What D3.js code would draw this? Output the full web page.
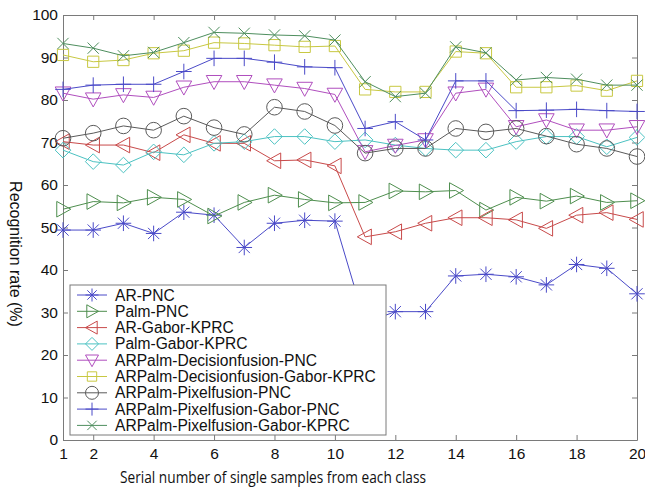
<!DOCTYPE html>
<html>
<head>
<meta charset="utf-8">
<script src="https://cdn.jsdelivr.net/npm/d3@7"></script>
<style>
  body { margin: 0; background: #fff; }
  text { font-family: "Liberation Sans", Arial, sans-serif; }
</style>
</head>
<body>
<div id="chart"></div>
<script>
// x positions (serial number of sample)
var samples = d3.range(1, 21);
var xTicks = [1, 2, 4, 6, 8, 10, 12, 14, 16, 18, 20];
var yTicks = d3.range(0, 101, 10);

// recognition rates
var arPnc = [49.4, 49.4, 51.0, 48.6, 53.6, 52.9, 45.3, 51.0, 51.7, 51.5, 27.6, 30.2, 30.2, 38.6, 39.0, 38.4, 36.5, 41.3, 40.4, 34.4];
var palmPnc = [54.3, 56.1, 55.8, 57.1, 56.6, 52.7, 55.9, 57.6, 56.6, 55.8, 55.9, 58.6, 58.4, 58.7, 54.1, 57.1, 56.2, 57.4, 55.9, 56.3];
var arGaborKprc = [70.2, 69.4, 69.4, 67.6, 71.8, 69.8, 69.8, 65.7, 65.9, 64.5, 47.8, 49.0, 51.0, 52.3, 52.3, 51.8, 49.8, 52.9, 53.5, 51.9];
var palmGaborKprc = [68.2, 65.5, 64.7, 67.8, 67.1, 69.8, 70.2, 71.4, 71.4, 70.2, 70.6, 69.4, 68.6, 68.2, 68.2, 70.2, 71.4, 71.4, 69.0, 71.2];
var decisionPnc = [81.6, 80.2, 81.2, 80.6, 83.0, 84.3, 84.3, 83.5, 82.7, 81.3, 67.8, 69.3, 70.6, 81.6, 82.5, 73.7, 75.3, 72.9, 72.9, 73.7];
var decisionGaborKprc = [90.6, 89.0, 89.4, 91.0, 91.6, 93.5, 93.3, 92.9, 92.5, 92.7, 82.5, 81.9, 81.9, 91.4, 91.0, 83.0, 83.0, 83.4, 82.2, 84.5];
var pixelPnc = [71.0, 72.2, 73.9, 72.9, 76.2, 73.5, 71.9, 78.3, 77.3, 74.0, 67.5, 68.6, 68.6, 73.3, 72.5, 73.3, 71.5, 69.6, 68.6, 66.7];
var pixelGaborPnc = [82.5, 83.5, 83.7, 83.7, 86.7, 89.8, 89.8, 88.9, 87.8, 87.6, 73.3, 74.9, 70.6, 84.5, 84.5, 77.5, 77.6, 77.8, 77.5, 77.3];
var pixelGaborKprc = [93.3, 92.2, 90.4, 91.2, 93.5, 95.9, 95.7, 95.3, 95.1, 94.1, 84.3, 80.8, 81.6, 92.5, 91.1, 84.7, 85.3, 84.9, 83.5, 83.5];

var seriesNames = ['AR-PNC', 'Palm-PNC', 'AR-Gabor-KPRC', 'Palm-Gabor-KPRC',
    'ARPalm-Decisionfusion-PNC', 'ARPalm-Decisionfusion-Gabor-KPRC',
    'ARPalm-Pixelfusion-PNC', 'ARPalm-Pixelfusion-Gabor-PNC', 'ARPalm-Pixelfusion-Gabor-KPRC'];
var seriesValues = [arPnc, palmPnc, arGaborKprc, palmGaborKprc, decisionPnc,
    decisionGaborKprc, pixelPnc, pixelGaborPnc, pixelGaborKprc];
var seriesColors = ['#4a4ac8', '#4e8e4e', '#c84a4a', '#4cc2c2', '#b04ebe',
    '#c8c842', '#5a5a5a', '#4a4ac8', '#4e8e5e'];
var seriesMarkers = ['star', 'right', 'left', 'diamond', 'down', 'square', 'circle', 'plus', 'cross'];

// marker outlines, s = half size
function markerPath(type, s) {
    var a = s * 0.72;
    switch (type) {
        case 'star':
            return `M0,${-s}L0,${s}M${-s},0L${s},0M${-a},${-a}L${a},${a}M${-a},${a}L${a},${-a}`;
        case 'plus':
            return `M0,${-s}L0,${s}M${-s},0L${s},0`;
        case 'cross':
            return `M${-a},${-a}L${a},${a}M${-a},${a}L${a},${-a}`;
        case 'right':
            return `M${-s * 0.8},${-s}L${s},0L${-s * 0.8},${s}Z`;
        case 'left':
            return `M${s * 0.8},${-s}L${-s},0L${s * 0.8},${s}Z`;
        case 'down':
            return `M${-s},${-s * 0.8}L${s},${-s * 0.8}L0,${s}Z`;
        case 'diamond':
            return `M0,${-s}L${s},0L0,${s}L${-s},0Z`;
        case 'square':
            return `M${-a},${-a}L${a},${-a}L${a},${a}L${-a},${a}Z`;
        case 'circle':
            return `M${s},0A${s},${s} 0 1,1 ${-s},0A${s},${s} 0 1,1 ${s},0Z`;
    }
}

var svgWidth = 645;
var svgHeight = 497;

var margin = {
    top: 15,
    bottom: 57,
    left: 63,
    right: 8
};

var width = svgWidth - margin.left - margin.right;
var height = svgHeight - margin.top - margin.bottom;

var svg = d3.select('#chart')
    .append('svg')
    .attr('width', svgWidth)
    .attr('height', svgHeight);

var chartGroup = svg.append('g')
    .attr('transform', `translate(${margin.left}, ${margin.top})`);

// Scales
var xScale = d3.scaleLinear()
    .domain([1, 20])
    .range([0, width]);

var yScale = d3.scaleLinear()
    .domain([0, 100])
    .range([height, 0]);

// Axes, ticks point inward like matlab
var axisColor = '#7a7a7a';

var bottomAxis = d3.axisBottom(xScale).tickValues(xTicks).tickSizeInner(-5).tickSizeOuter(0).tickPadding(8);
var leftAxis = d3.axisLeft(yScale).tickValues(yTicks).tickSizeInner(-5).tickSizeOuter(0).tickPadding(5);
var topAxis = d3.axisTop(xScale).tickValues(xTicks).tickSizeInner(-5).tickSizeOuter(0).tickFormat('');
var rightAxis = d3.axisRight(yScale).tickValues(yTicks).tickSizeInner(-5).tickSizeOuter(0).tickFormat('');

var axes = [
    chartGroup.append('g').attr('transform', `translate(0, ${height})`).call(bottomAxis),
    chartGroup.append('g').call(leftAxis),
    chartGroup.append('g').call(topAxis),
    chartGroup.append('g').attr('transform', `translate(${width}, 0)`).call(rightAxis)
];

axes.forEach(function(g) {
    g.select('.domain').attr('stroke', axisColor);
    g.selectAll('.tick line').attr('stroke', axisColor);
    g.selectAll('.tick text')
        .attr('fill', '#111')
        .style('font-size', '15.5px')
        .style('font-family', '"Liberation Sans", Arial, sans-serif');
});

// Line generator
var line = d3.line()
    .x((d, i) => xScale(samples[i]))
    .y(d => yScale(d));

seriesValues.forEach(function(values, k) {
    var color = seriesColors[k];

    chartGroup.append('path')
        .datum(values)
        .attr('d', line)
        .attr('fill', 'none')
        .attr('stroke', color)
        .attr('stroke-width', 1);

    chartGroup.selectAll(`.marker-${k}`)
        .data(values)
        .enter()
        .append('path')
        .attr('class', `marker-${k}`)
        .attr('transform', (d, i) => `translate(${xScale(samples[i])}, ${yScale(d)})`)
        .attr('d', markerPath(seriesMarkers[k], 7.8))
        .attr('fill', 'none')
        .attr('stroke', color)
        .attr('stroke-width', 1);
});

// Legend box
var legend = chartGroup.append('g')
    .attr('transform', `translate(${70 - margin.left}, ${285 - margin.top})`);

legend.append('rect')
    .attr('width', 316)
    .attr('height', 150)
    .attr('fill', '#fff')
    .attr('stroke', axisColor)
    .attr('stroke-width', 1);

var legendRows = legend.selectAll('.legend-row')
    .data(seriesNames)
    .enter()
    .append('g')
    .attr('class', 'legend-row')
    .attr('transform', (d, i) => `translate(0, ${10 + i * 16.3})`);

legendRows.append('line')
    .attr('x1', 7)
    .attr('x2', 37)
    .attr('stroke', (d, i) => seriesColors[i])
    .attr('stroke-width', 1);

legendRows.append('path')
    .attr('transform', 'translate(22, 0)')
    .attr('d', (d, i) => markerPath(seriesMarkers[i], 6.5))
    .attr('fill', 'none')
    .attr('stroke', (d, i) => seriesColors[i])
    .attr('stroke-width', 1);

legendRows.append('text')
    .attr('x', 45)
    .attr('y', 5.5)
    .attr('fill', '#111')
    .style('font-size', '15.6px')
    .text(d => d);

// Axis labels
svg.append('text')
    .attr('transform', 'translate(15, 254) rotate(90)')
    .attr('text-anchor', 'middle')
    .attr('dominant-baseline', 'central')
    .attr('fill', '#111')
    .style('font-size', '16px')
    .text('Recognition rate (%)');

svg.append('text')
    .attr('x', 273)
    .attr('y', 483)
    .attr('text-anchor', 'middle')
    .attr('fill', '#111')
    .attr('textLength', 306)
    .attr('lengthAdjust', 'spacingAndGlyphs')
    .style('font-family', '"Open Sans", Lato, sans-serif')
    .style('font-size', '15.5px')
    .text('Serial number of single samples from each class');
</script>
</body>
</html>
